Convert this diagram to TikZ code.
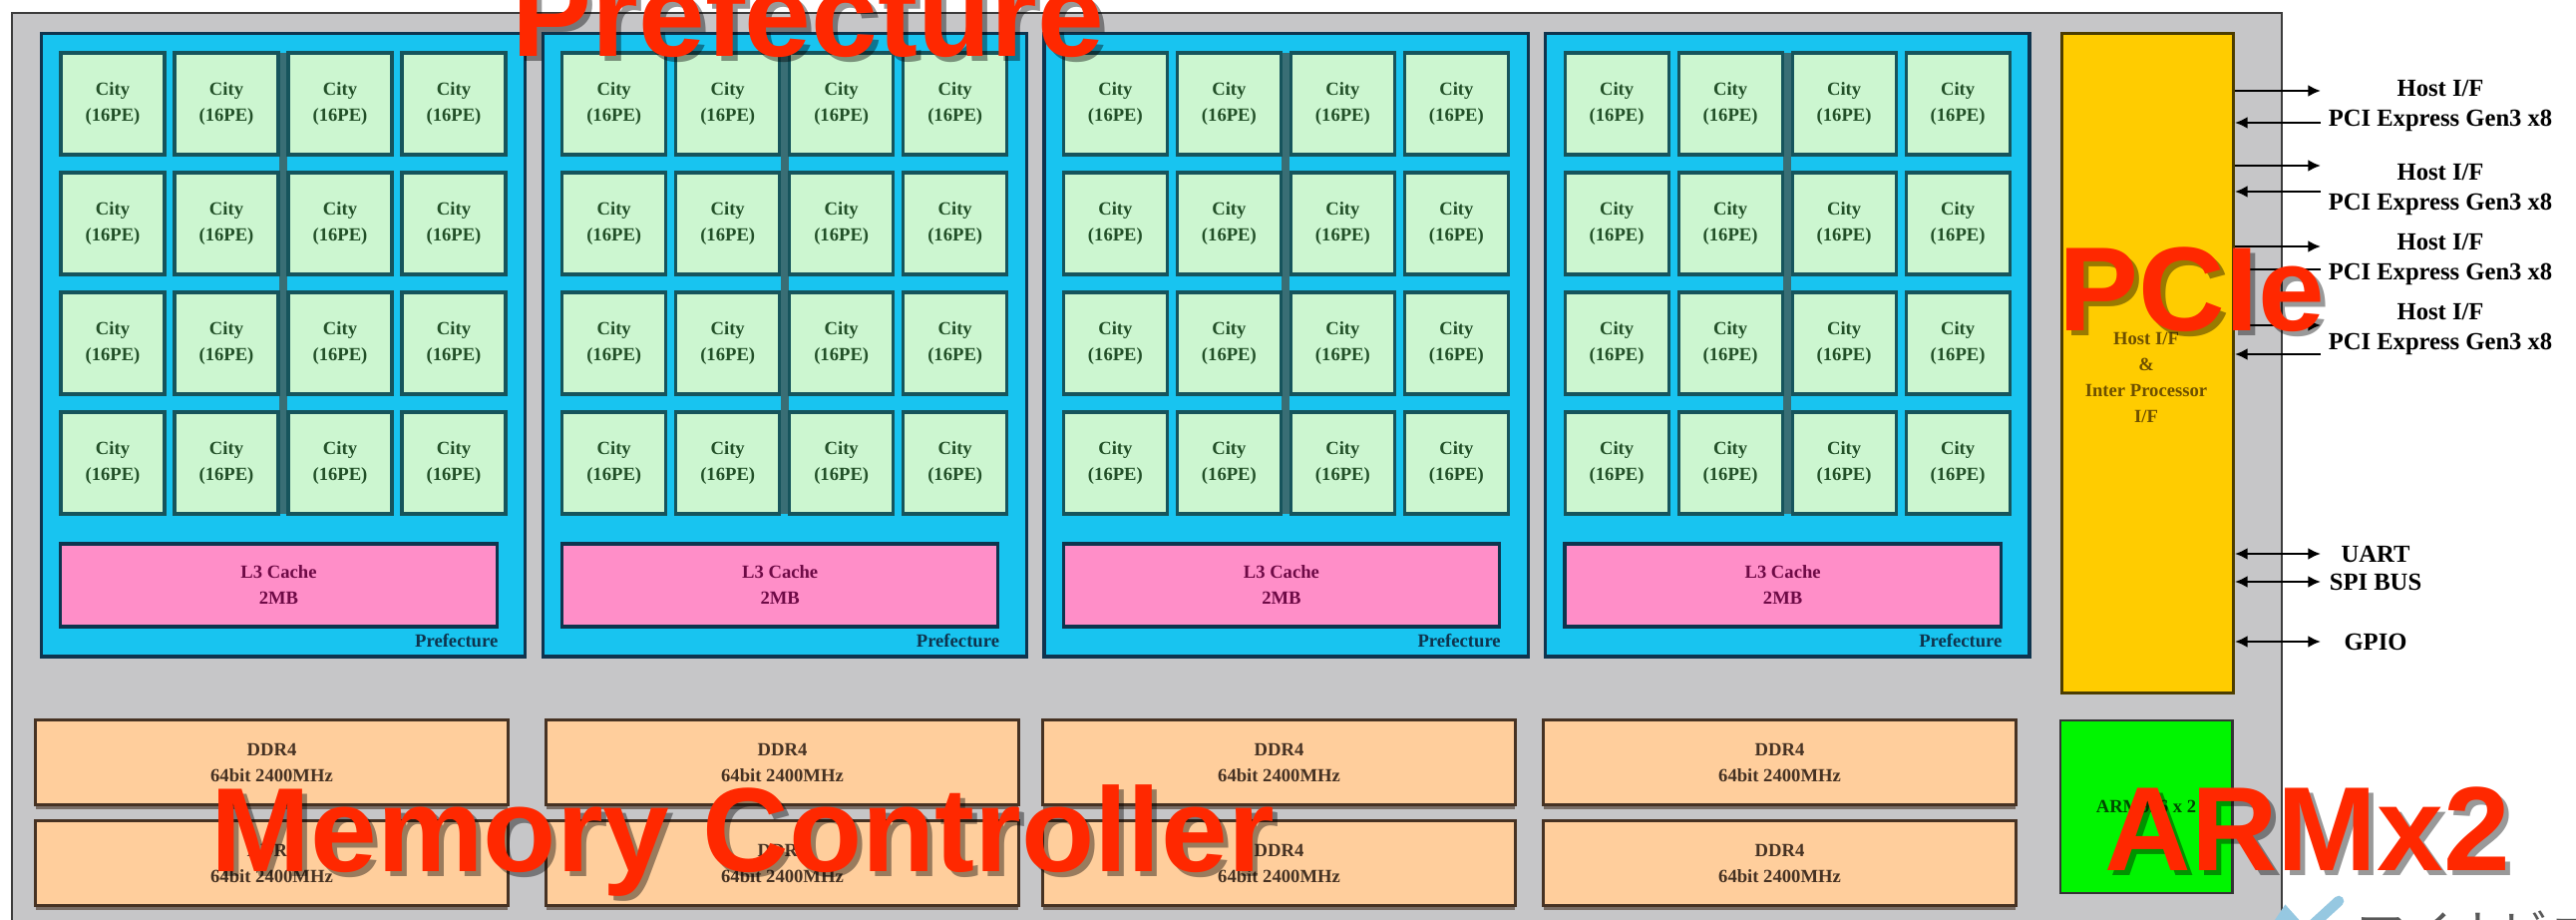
\documentclass[tikz,border=0pt]{standalone}
\usepackage{fontspec}
\setmainfont{Liberation Serif}
\newfontfamily\callfont{Liberation Sans}
\newfontfamily\jpfont{Noto Sans CJK JP}
\usetikzlibrary{arrows.meta,shadows}
\definecolor{chipgray}{RGB}{198,198,200}
\definecolor{chipline}{RGB}{60,60,60}
\definecolor{prefblue}{RGB}{24,196,240}
\definecolor{prefline}{RGB}{14,52,78}
\definecolor{citygreen}{RGB}{204,246,208}
\definecolor{cityline}{RGB}{22,84,92}
\definecolor{citytext}{RGB}{34,80,40}
\definecolor{cachepink}{RGB}{255,142,200}
\definecolor{cachetext}{RGB}{110,10,70}
\definecolor{ddrpeach}{RGB}{255,206,156}
\definecolor{ddrline}{RGB}{70,50,35}
\definecolor{hostyellow}{RGB}{255,204,0}
\definecolor{hosttext}{RGB}{110,80,0}
\definecolor{armgreen}{RGB}{0,245,0}
\definecolor{callred}{RGB}{255,40,0}
\definecolor{logoblue}{RGB}{150,200,225}
\tikzset{
  small/.style={font=\fontsize{5.3pt}{7.4pt}\selectfont\bfseries,align=center,inner sep=0pt},
  pinlabel/.style={font=\fontsize{7pt}{8.5pt}\selectfont\bfseries,align=center,inner sep=0pt},
  city/.style={small,fill=citygreen,draw=cityline,line width=0.9pt,text=citytext,minimum width=1.04cm,minimum height=1.02cm},
  cache/.style={small,fill=cachepink,draw=prefline,line width=0.9pt,text=cachetext,minimum width=4.37cm,minimum height=0.83cm},
  pref/.style={fill=prefblue,draw=prefline,line width=0.9pt,minimum width=4.85cm,minimum height=6.24cm,anchor=north west,inner sep=0pt},
  ddr/.style={small,fill=ddrpeach,draw=ddrline,line width=0.8pt,text=ddrline,minimum width=4.73cm,minimum height=0.85cm,drop shadow={shadow xshift=0pt,shadow yshift=-1.2pt,opacity=.6,fill=ddrline}},
  hostbox/.style={fill=hostyellow,draw=black!70!hostyellow,line width=0.8pt,minimum width=1.72cm,minimum height=6.61cm,anchor=north west,inner sep=0pt},
  armbox/.style={small,fill=armgreen,draw=black!80,line width=0.8pt,text=black!70!armgreen,minimum width=1.72cm,minimum height=1.73cm},
  sig/.style={line width=0.8pt,-{Latex[length=3.6pt,width=3.4pt]}},
  sigboth/.style={line width=0.8pt,{Latex[length=3.6pt,width=3.4pt]}-{Latex[length=3.6pt,width=3.4pt]}},
  callout/.style={font=\callfont\bfseries\fontsize{34.1pt}{40pt}\selectfont,text=callred,inner sep=0pt,anchor=base west},
  callshadow/.style={callout,text=black,opacity=.4}
}
\begin{document}
\begin{tikzpicture}[x=0.01cm,y=-0.01cm]
\useasboundingbox (0,0) rectangle (2583,922);
\fill[white] (0,0) rectangle (2583,922);

\draw[fill=chipgray,draw=chipline,line width=0.8pt] (12,13) rectangle (2288,940);

\foreach \i in {0,...,3}{
  \pgfmathsetmacro\bx{40+502.7*\i}
  \node[pref] (pref\i) at (\bx,32) {};
  \fill[cityline!85] (\bx+240,53) rectangle (\bx+248,515);
  \foreach \r in {0,...,3}
    \foreach \c in {0,...,3}
      \node[city] (city\i\r\c) at (\bx+73+114*\c,104+120*\r) {City\\(16PE)};
  \node[cache] (cache\i) at (\bx+239.5,586.5) {L3 Cache\\2MB};
  \node[small,text=prefline,anchor=base east] (preflabel\i) at (\bx+460,648) {Prefecture};
}

\foreach \i/\dx in {0/36,1/548,2/1046,3/1548}{
  \node[ddr] (ddra\i) at (\dx+236.5,764) {DDR4\\64bit 2400MHz};
  \node[ddr] (ddrb\i) at (\dx+236.5,865) {DDR4\\64bit 2400MHz};
}

\node[hostbox] (hostif) at (2066,32) {};
\node[small,text=hosttext] (hostiftext) at (2152,378) {Host I/F\\\&\\Inter Processor\\I/F};
\node[armbox] (arm) at (2152,808.5) {ARM926 x 2};

\foreach \n/\yo/\yi/\yl in {1/91/123/106,2/166/192/190,3/247/270/260,4/326/355/330}{
  \coordinate (out\n) at (2327,\yo);
  \coordinate (in\n) at (2327,\yi);
  \draw[sig] (hostif.east |- out\n) -- (out\n);
  \draw[sig] (in\n) -- (hostif.east |- in\n);
  \node[pinlabel] (host\n) at (2447,\yl) {Host I/F\\PCI Express Gen3 x8};
}
\foreach \n/\y/\t in {uart/555/UART,spi/583/SPI BUS,gpio/643/GPIO}{
  \coordinate (pin\n) at (2327,\y);
  \draw[sigboth] (hostif.east |- pin\n) -- (pin\n);
  \node[pinlabel] (\n) at (2382,\y) {\t};
}

\draw[logoblue,line width=3pt,line cap=round] (2272,945) -- (2292,915) -- (2310,935) -- (2345,903);
\node[font=\jpfont\fontsize{13.7pt}{16pt}\selectfont,text=black!65,anchor=base west,inner sep=0pt] (wmark) at (2363,952) {マイナビニュース};

\node[callshadow] at (518,62) {Prefecture};
\node[callout] (tprefecture) at (513,57) {Prefecture};
\node[callshadow] at (2069,337) {PCIe};
\node[callout] (tpcie) at (2064,332) {PCIe};
\node[callshadow] at (216,878) {Memory Controller};
\node[callout] (tmemory) at (211,873) {Memory Controller};
\node[callshadow] at (2115,877) {ARMx2};
\node[callout] (tarm) at (2110,872) {ARMx2};
\end{tikzpicture}
\end{document}
